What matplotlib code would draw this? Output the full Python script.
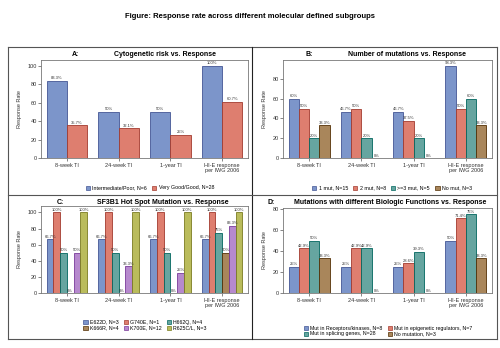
import numpy as np
import matplotlib
matplotlib.use("Agg")
import matplotlib.pyplot as plt
from matplotlib.patches import Rectangle
from matplotlib.lines import Line2D

plt.rcParams['font.family'] = ['Liberation Sans', 'DejaVu Sans']

categories = ["8-week TI", "24-week TI", "1-year TI", "HI-E response\nper IWG 2006"]

# panel A
a_names = ["Intermediate/Poor, N=6", "Very Good/Good, N=28"]
a_vals = [[83.3, 50, 50, 100],
          [35.7, 32.1, 25, 60.7]]
a_labels = [["83.3%", "50%", "50%", "100%"],
            ["35.7%", "32.1%", "25%", "60.7%"]]

# panel B
b_names = ["1 mut, N=15", "2 mut, N=8", ">=3 mut, N=5", "No mut, N=3"]
b_vals = [[60, 46.7, 46.7, 93.3],
          [50, 50, 37.5, 50],
          [20, 20, 20, 60],
          [33.3, 0, 0, 33.3]]
b_labels = [["60%", "46.7%", "46.7%", "93.3%"],
            ["50%", "50%", "37.5%", "50%"],
            ["20%", "20%", "20%", "60%"],
            ["33.3%", "0%", "0%", "33.3%"]]

# panel C
c_names = ["E622D, N=3", "G740E, N=1", "H662Q, N=4",
           "K666R, N=4", "K700E, N=12", "R625C/L, N=3"]
c_vals = [[66.7, 66.7, 66.7, 66.7],
          [100, 100, 100, 100],
          [50, 50, 50, 75],
          [0, 0, 0, 50],
          [50, 33.3, 25, 83.3],
          [100, 100, 100, 100]]
c_labels = [["66.7%", "66.7%", "66.7%", "66.7%"],
            ["100%", "100%", "100%", "100%"],
            ["50%", "50%", "50%", "75%"],
            ["0%", "0%", "0%", "50%"],
            ["50%", "33.3%", "25%", "83.3%"],
            ["100%", "100%", "100%", "100%"]]

# panel D
d_names = ["Mut in Receptors/kinases, N=8", "Mut in epigenetic regulators, N=7",
           "Mut in splicing genes, N=28", "No mutation, N=3"]
d_vals = [[25, 25, 25, 50],
          [42.9, 42.9, 28.6, 71.4],
          [50, 42.9, 39.3, 75],
          [33.3, 0, 0, 33.3]]
d_labels = [["25%", "25%", "25%", "50%"],
            ["42.9%", "42.9%", "28.6%", "71.4%"],
            ["50%", "42.9%", "39.3%", "75%"],
            ["33.3%", "0%", "0%", "33.3%"]]

fills = ["#7C95CA", "#DE7E6F", "#66A5A0", "#A9865B", "#B689CD", "#BABC5C"]
edges = ["#445694", "#A23A2E", "#01665E", "#543005", "#7A3A9A", "#7A7C20"]

W, H = 500, 348
fig = plt.figure(figsize=(5, 3.48), dpi=100)


def rect(l, t, r, b):
    return [l / W, 1 - b / H, (r - l) / W, (b - t) / H]


def panel(box, names, vals, labels, ymax, yticks, letter, lx, title, tx, ty,
          leg_xy, ncol, order):
    ax = fig.add_axes(rect(*box))
    n = len(names)
    x = np.arange(len(categories))
    width = 0.78 / n
    handles = []
    for i in range(n):
        pos = x - 0.39 + width * (i + 0.5)
        ax.bar(pos, vals[i], width, color=fills[i], edgecolor=edges[i],
               linewidth=0.6)
        for p, v, s in zip(pos, vals[i], labels[i]):
            ax.text(p, v + ymax * 0.005, s, ha="center", va="bottom",
                    fontsize=3, color="#333333")
        handles.append(Rectangle((0, 0), 1, 1, facecolor=fills[i],
                                 edgecolor=edges[i], linewidth=0.5))
    ax.set_xlim(-0.5, len(categories) - 0.5)
    ax.set_ylim(0, ymax)
    ax.set_yticks(yticks)
    ax.set_xticks(x)
    ax.set_xticklabels(categories, fontsize=4, color="#333333", linespacing=1.0)
    ax.tick_params(axis="y", labelsize=4, length=2, width=0.5, pad=1,
                   colors="#555555", labelcolor="#333333")
    ax.tick_params(axis="x", length=2, width=0.5, pad=1.5, colors="#555555",
                   labelcolor="#333333")
    for sp in ax.spines.values():
        sp.set_color("#777777")
        sp.set_linewidth(0.6)
    ax.set_ylabel("Response Rate", fontsize=4, color="#333333", labelpad=4)
    fig.text(lx / W, 1 - ty / H, letter, fontsize=5, fontweight="bold",
             ha="left", va="center")
    fig.text(tx / W, 1 - ty / H, title, fontsize=5, fontweight="bold",
             ha="center", va="center")
    fig.legend([handles[k] for k in order], [names[k] for k in order],
               loc="center", bbox_to_anchor=(leg_xy[0] / W, 1 - leg_xy[1] / H),
               ncol=ncol, frameon=False, fontsize=3.8, handlelength=0.8,
               handleheight=0.8, handletextpad=0.4, columnspacing=1.0,
               labelspacing=0.15, borderpad=0)
    return ax


panel((41, 60, 248, 158), a_names, a_vals, a_labels, 106,
      [0, 20, 40, 60, 80, 100], "A:", 72, "Cytogenetic risk vs. Response",
      165, 55, (150, 188), 2, [0, 1])
panel((283, 60, 492, 158), b_names, b_vals, b_labels, 99,
      [0, 20, 40, 60, 80], "B:", 305, "Number of mutations vs. Response",
      407, 55, (392, 188), 4, [0, 1, 2, 3])
panel((41, 206, 248, 293), c_names, c_vals, c_labels, 108,
      [0, 20, 40, 60, 80, 100], "C:", 57, "SF3B1 Hot Spot Mutation vs. Response",
      163, 202, (145, 325), 3, [0, 3, 1, 4, 2, 5])
panel((283, 208, 492, 293), d_names, d_vals, d_labels, 81,
      [0, 20, 40, 60, 80], "D:", 267, "Mutations with different Biologic Functions vs. Response",
      390, 202, (388, 331), 2, [0, 2, 1, 3])

fig.text(0.5, 1 - 17 / H, "Figure: Response rate across different molecular defined subgroups",
         fontsize=5.5, fontweight="bold", ha="center", va="center")

# outer frame and dividers
for xs, ys, c in [((8, 497), (47, 47), "#555555"), ((8, 497), (339, 339), "#555555"),
                  ((8, 8), (47, 339), "#555555"), ((497, 497), (47, 339), "#555555"),
                  ((252, 252), (47, 339), "#222222"), ((8, 497), (195, 195), "#555555")]:
    fig.add_artist(Line2D([x / W for x in xs], [1 - y / H for y in ys],
                          color=c, linewidth=0.8))

fig.savefig("out.png", dpi=100)
